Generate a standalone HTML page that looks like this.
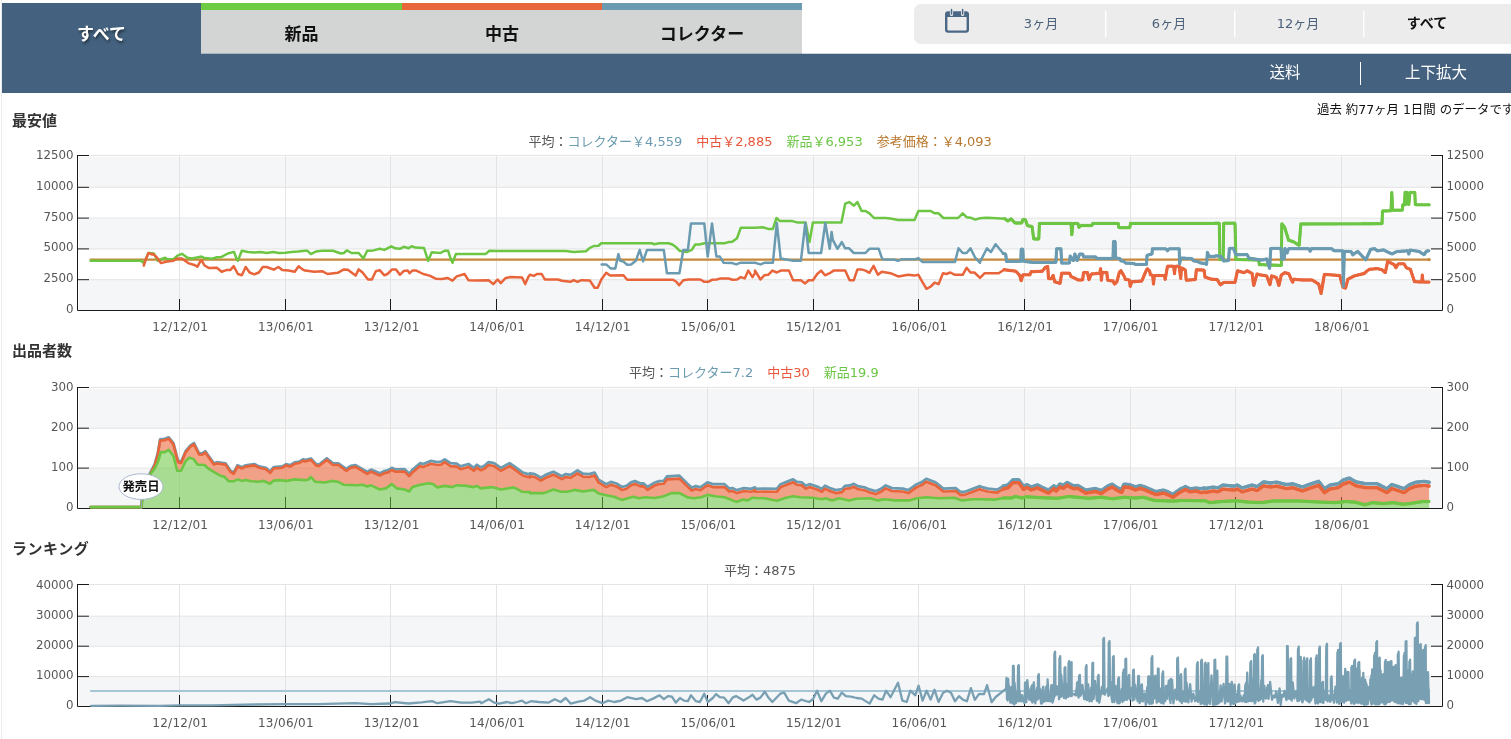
<!DOCTYPE html>
<html lang="ja"><head><meta charset="utf-8"><title>価格推移グラフ</title>
<style>
html,body{margin:0;padding:0;background:#fff;}
body{width:1511px;height:739px;overflow:hidden;position:relative;font-family:"DejaVu Sans","Noto Sans CJK JP",sans-serif;color:#333;}
.abs{position:absolute;}
#lb{left:1px;top:0;width:1px;height:739px;background:#ececec;}
#bar{left:2px;top:3px;width:1509px;height:90px;background:#44627f;}
#white{left:802px;top:0;width:709px;height:54px;background:#fff;}
.tab{top:3px;height:51px;width:200px;box-sizing:border-box;border-top:7px solid #ccc;background:#d3d4d4;text-align:center;font-weight:bold;font-size:17px;line-height:49px;color:#111;}
#t0{left:2px;width:199px;background:#44627f;border-top-color:#44627f;color:#fff;text-shadow:1px 2px 3px rgba(0,0,0,.55);}
#t1{left:201px;width:201px;border-top-color:#6ecb44;}
#t2{left:402px;border-top-color:#e8673a;}
#t3{left:602px;border-top-color:#6a9bb0;}
#sel{left:914px;top:4px;width:620px;height:40px;background:#ececec;border-radius:7px;}
.p{top:4px;height:40px;line-height:39px;width:128px;text-align:center;font-size:13px;color:#4b607a;}
.dv{top:11px;width:1px;height:26px;background:#fff;box-shadow:1px 0 0 rgba(255,255,255,.45);}
.bt{top:53px;height:40px;line-height:41px;color:#fff;font-size:15.5px;text-align:center;width:150px;}
.ttl{left:12px;font-weight:bold;font-size:15px;line-height:20px;color:#333;white-space:nowrap;}
.lg{font-size:13px;line-height:18px;white-space:nowrap;color:#555;}
.lg span{margin-left:14px;}
.lg span.f{margin-left:0;}
.cb{color:#6b9bb0}.co{color:#e8573a}.cg{color:#6cc644}.cr{color:#b8772e}
svg text{font-family:"DejaVu Sans","Noto Sans CJK JP",sans-serif;font-size:11.8px;fill:#555;}
svg text.xl{font-size:12px;letter-spacing:.25px}
svg text.rel{font-size:12.4px;font-weight:bold;fill:#111;}
</style></head><body>
<div id="lb" class="abs"></div>
<div id="bar" class="abs"></div>
<div id="white" class="abs"></div>
<div id="t0" class="abs tab">すべて</div>
<div id="t1" class="abs tab">新品</div>
<div id="t2" class="abs tab">中古</div>
<div id="t3" class="abs tab">コレクター</div>
<div class="abs" style="left:201px;top:53px;width:1310px;height:1px;background:rgba(68,98,127,.28)"></div>
<div id="sel" class="abs"></div>
<svg class="abs" style="left:945px;top:8px" width="24" height="26" viewBox="0 0 24 26">
<path d="M3 3.2h18a3 3 0 0 1 3 3v15.6a3 3 0 0 1-3 3H3a3 3 0 0 1-3-3V6.200a3 3 0 0 1 3-3zM2.400 8.900v12.600a1 1 0 0 0 1 1h17.200a1 1 0 0 0 1-1V8.900z" fill="#4a6785" fill-rule="evenodd"/>
<path d="M6.500 1.500v5M17.600 1.500v5" stroke="#ececec" stroke-width="3.200" stroke-linecap="round"/>
<path d="M6.500 1.500v4.600M17.600 1.500v4.600" stroke="#4a6785" stroke-width="1.500" stroke-linecap="round"/>
</svg>
<div class="abs p" style="left:977px">3ヶ月</div>
<div class="abs p" style="left:1105px">6ヶ月</div>
<div class="abs p" style="left:1234px">12ヶ月</div>
<div class="abs p" style="left:1363px;color:#111;font-weight:bold;font-size:14px">すべて</div>
<div class="abs dv" style="left:1105px"></div>
<div class="abs dv" style="left:1234px"></div>
<div class="abs dv" style="left:1363px"></div>
<div class="abs bt" style="left:1210px">送料</div>
<div class="abs" style="left:1360px;top:62px;width:1px;height:23px;background:#fff"></div>
<div class="abs bt" style="left:1361px">上下拡大</div>
<div class="abs" style="left:1317px;top:101px;font-size:12.45px;line-height:18px;white-space:nowrap;color:#111">過去 約77ヶ月 1日間 のデータです</div>

<div class="abs ttl" style="top:111px">最安値</div>
<div class="abs ttl" style="top:341px">出品者数</div>
<div class="abs ttl" style="top:539px;letter-spacing:.55px">ランキング</div>

<div class="abs lg" style="left:528.5px;top:133px"><span class="f">平均：</span><span class="f cb">コレクター￥4,559</span><span class="co">中古￥2,885</span><span class="cg">新品￥6,953</span><span class="cr">参考価格：￥4,093</span></div>
<div class="abs lg" style="left:629px;top:364px"><span class="f">平均：</span><span class="f cb">コレクター7.2</span><span class="co">中古30</span><span class="cg">新品19.9</span></div>
<div class="abs lg" style="left:724px;top:562px"><span class="f">平均：4875</span></div>

<svg class="abs" style="left:0;top:0" width="1511" height="739" viewBox="0 0 1511 739">
<rect x="79" y="157.0" width="1362" height="30.8" fill="#f5f6f8"/>
<rect x="79" y="218.6" width="1362" height="30.8" fill="#f5f6f8"/>
<rect x="79" y="280.2" width="1362" height="29.8" fill="#f5f6f8"/>
<line x1="89.5" y1="155.5" x2="1430.5" y2="155.5" stroke="#e4e4e4" stroke-width="1"/>
<line x1="89.5" y1="187.3" x2="1430.5" y2="187.3" stroke="#e4e4e4" stroke-width="1"/>
<line x1="89.5" y1="218.1" x2="1430.5" y2="218.1" stroke="#e4e4e4" stroke-width="1"/>
<line x1="89.5" y1="248.9" x2="1430.5" y2="248.9" stroke="#e4e4e4" stroke-width="1"/>
<line x1="89.5" y1="279.7" x2="1430.5" y2="279.7" stroke="#e4e4e4" stroke-width="1"/>
<line x1="179.5" y1="155.5" x2="179.5" y2="310.5" stroke="#e4e4e4" stroke-width="1"/>
<line x1="285.5" y1="155.5" x2="285.5" y2="310.5" stroke="#e4e4e4" stroke-width="1"/>
<line x1="390.5" y1="155.5" x2="390.5" y2="310.5" stroke="#e4e4e4" stroke-width="1"/>
<line x1="496.5" y1="155.5" x2="496.5" y2="310.5" stroke="#e4e4e4" stroke-width="1"/>
<line x1="602.5" y1="155.5" x2="602.5" y2="310.5" stroke="#e4e4e4" stroke-width="1"/>
<line x1="707.5" y1="155.5" x2="707.5" y2="310.5" stroke="#e4e4e4" stroke-width="1"/>
<line x1="813.5" y1="155.5" x2="813.5" y2="310.5" stroke="#e4e4e4" stroke-width="1"/>
<line x1="918.5" y1="155.5" x2="918.5" y2="310.5" stroke="#e4e4e4" stroke-width="1"/>
<line x1="1024.5" y1="155.5" x2="1024.5" y2="310.5" stroke="#e4e4e4" stroke-width="1"/>
<line x1="1130.5" y1="155.5" x2="1130.5" y2="310.5" stroke="#e4e4e4" stroke-width="1"/>
<line x1="1235.5" y1="155.5" x2="1235.5" y2="310.5" stroke="#e4e4e4" stroke-width="1"/>
<line x1="1341.5" y1="155.5" x2="1341.5" y2="310.5" stroke="#e4e4e4" stroke-width="1"/>
<path d="M90.6 259.6 L1429.2 259.6" fill="none" stroke="#c6883a" stroke-width="2.1" stroke-linejoin="round" stroke-linecap="round" />
<circle cx="1429.2" cy="259.6" r="1.6" fill="#c6883a"/>
<path d="M90.6 260.8 L140.7 260.8 L143.8 263.1 L146.1 258.5 L148.5 253.0 L153.9 253.5 L157.8 260.8 L160.9 259.2 L165.3 257.7 L167.1 259.2 L173.4 259.2 L178.0 255.3 L181.9 253.8 L187.4 257.7 L192.0 258.5 L198.3 257.2 L201.4 256.6 L204.5 258.1 L212.3 258.8 L216.9 257.2 L221.6 256.9 L227.8 253.5 L234.1 251.9 L236.4 258.5 L237.9 260.8 L241.8 250.7 L248.1 251.9 L254.3 252.6 L260.5 251.9 L266.7 253.0 L272.9 251.9 L279.2 253.0 L285.4 252.7 L291.6 251.9 L297.8 251.5 L305.0 250.7 L307.3 250.7 L310.9 254.1 L315.9 251.5 L322.1 250.7 L333.0 250.7 L340.8 253.5 L343.9 253.0 L346.7 250.4 L351.7 253.0 L358.7 253.0 L363.4 258.5 L367.2 250.7 L373.5 250.4 L379.7 248.8 L384.4 249.9 L391.4 246.3 L395.2 248.3 L399.9 248.8 L403.8 246.8 L408.5 248.3 L411.6 246.3 L415.5 247.6 L424.0 247.9 L426.4 255.3 L428.2 260.8 L431.8 252.2 L440.4 253.0 L445.0 250.7 L448.1 250.7 L450.5 258.5 L452.5 262.8 L455.9 254.1 L476.2 254.1 L485.5 254.1 L489.4 250.7 L497.9 251.0 L530.0 251.0 L565.8 251.0 L573.6 251.9 L586.0 251.2 L589.9 247.9 L593.8 246.0 L598.5 245.7 L601.3 243.2 L607.8 243.2 L651.4 243.2 L654.5 244.2 L659.1 243.2 L668.5 243.2 L672.4 244.5 L676.3 247.3 L679.4 250.7 L683.3 251.5 L687.2 251.9 L691.8 249.9 L695.2 244.5 L699.6 244.5 L704.3 243.2 L724.5 243.2 L728.4 242.1 L732.3 241.7 L737.0 238.2 L740.8 227.7 L755.0 227.7 L762.8 227.3 L768.2 228.9 L772.9 228.9 L776.5 218.0 L779.9 221.1 L792.3 221.1 L797.0 222.4 L805.6 222.4 L809.5 242.1 L812.9 222.4 L841.4 222.4 L845.2 203.7 L849.1 202.1 L853.8 205.6 L857.4 202.1 L861.6 211.0 L865.5 211.0 L869.4 213.3 L874.0 218.0 L885.7 218.0 L891.9 218.8 L898.1 219.9 L914.5 219.9 L918.4 211.0 L930.8 211.0 L934.7 213.3 L938.6 213.3 L943.3 218.0 L958.1 218.0 L962.7 213.3 L966.6 217.2 L970.5 217.7 L975.2 219.6 L980.0 218.3 L986.2 217.7 L992.5 218.0 L1004.9 218.8 L1008.0 221.1 L1011.1 218.8 L1015.0 223.0 L1021.7 223.0 L1022.8 219.6 L1025.4 219.6 L1027.5 225.8 L1032.1 226.6 L1033.7 239.0 L1038.8 239.0 L1039.4 223.4 L1071.0 223.4 L1071.8 234.8 L1073.0 223.4 L1078.0 223.4 L1078.8 227.3 L1081.1 225.5 L1092.0 225.5 L1092.8 223.4 L1118.2 223.4 L1118.8 227.7 L1129.7 227.7 L1130.6 223.4 L1205.0 223.4 L1219.3 223.2 L1219.9 259.7 L1223.2 259.7 L1223.7 223.2 L1235.0 223.2 L1235.9 259.4 L1258.6 260.0 L1259.4 264.6 L1281.3 265.4 L1281.8 223.7 L1284.6 227.2 L1288.6 240.2 L1293.5 241.8 L1299.2 245.4 L1300.8 224.0 L1382.0 223.7 L1382.5 211.0 L1391.0 210.7 L1391.8 192.3 L1392.6 210.2 L1402.3 210.2 L1402.8 204.8 L1404.4 204.8 L1405.1 192.3 L1406.4 204.5 L1407.2 192.3 L1408.8 204.5 L1410.0 192.3 L1414.8 192.3 L1415.3 204.8 L1429.1 204.8" fill="none" stroke="#6cc644" stroke-width="2.5" stroke-linejoin="round" stroke-linecap="round" />
<path d="M1004.9 218.8 L1008.0 221.1 L1011.1 218.8 L1015.0 223.0 L1021.7 223.0 L1022.8 219.6 L1025.4 219.6 L1027.5 225.8 L1032.1 226.6 L1033.7 239.0 L1038.8 239.0 L1039.4 223.4 L1071.0 223.4 L1071.8 234.8 L1073.0 223.4 L1078.0 223.4 L1078.8 227.3 L1081.1 225.5 L1092.0 225.5 L1092.8 223.4 L1118.2 223.4 L1118.8 227.7 L1129.7 227.7 L1130.6 223.4 L1205.0 223.4 L1219.3 223.2 L1219.9 259.7 L1223.2 259.7 L1223.7 223.2 L1235.0 223.2 L1235.9 259.4 L1258.6 260.0 L1259.4 264.6 L1281.3 265.4 L1281.8 223.7 L1284.6 227.2 L1288.6 240.2 L1293.5 241.8 L1299.2 245.4 L1300.8 224.0 L1382.0 223.7 L1382.5 211.0 L1391.0 210.7 L1391.8 192.3 L1392.6 210.2 L1402.3 210.2 L1402.8 204.8 L1404.4 204.8 L1405.1 192.3 L1406.4 204.5 L1407.2 192.3 L1408.8 204.5 L1410.0 192.3 L1414.8 192.3 L1415.3 204.8 L1429.1 204.8" fill="none" stroke="#6cc644" stroke-width="3.3" stroke-linecap="round" stroke-linejoin="round" stroke-dasharray="0.1 1.5"/>
<path d="M143.8 265.5 L146.1 258.5 L148.5 253.0 L152.3 254.6 L153.1 253.8 L157.0 257.7 L160.9 263.1 L167.1 261.6 L173.4 260.8 L177.2 258.5 L181.9 258.5 L188.9 263.4 L193.6 264.7 L197.5 266.6 L200.6 260.8 L202.2 261.3 L204.5 265.5 L209.2 268.1 L216.9 267.8 L221.6 271.7 L226.3 270.1 L230.2 270.1 L233.7 266.2 L237.9 274.0 L241.8 275.3 L245.7 267.0 L249.6 272.5 L254.3 274.3 L258.9 272.5 L262.8 267.0 L266.7 267.0 L273.7 269.7 L278.4 267.0 L282.3 270.1 L288.5 270.6 L294.7 271.7 L298.6 266.2 L302.5 269.4 L305.0 270.6 L314.3 271.7 L322.1 271.2 L327.6 274.0 L337.7 272.8 L343.9 269.4 L347.8 269.7 L355.6 275.6 L358.7 269.4 L362.6 272.5 L368.0 279.5 L371.9 279.5 L375.8 271.2 L379.7 270.1 L384.4 275.3 L387.5 274.0 L392.1 269.4 L396.0 269.4 L399.9 274.8 L403.8 270.9 L407.7 270.6 L409.6 273.2 L412.4 270.6 L416.3 270.6 L423.3 274.0 L429.5 275.6 L435.7 278.7 L441.9 279.0 L447.4 277.9 L452.5 280.6 L456.7 276.4 L464.5 274.0 L468.4 280.2 L476.2 280.6 L488.6 280.2 L493.3 284.1 L497.6 279.5 L500.8 283.1 L505.7 277.9 L510.4 277.1 L522.1 277.4 L525.2 284.1 L528.3 277.1 L530.0 274.8 L533.9 275.9 L537.0 274.0 L541.7 274.0 L544.8 279.5 L558.0 279.5 L561.9 280.7 L570.5 281.8 L573.6 280.2 L577.5 281.8 L581.4 280.2 L589.9 280.6 L594.6 287.7 L597.7 287.7 L601.3 279.5 L606.2 272.8 L610.1 275.6 L623.4 275.3 L627.2 279.8 L638.9 279.8 L673.1 279.8 L676.3 281.8 L679.1 285.2 L683.3 280.2 L688.7 279.5 L700.4 279.5 L704.3 281.8 L708.2 281.8 L712.0 279.8 L716.7 279.5 L720.6 278.4 L728.4 278.4 L732.3 279.8 L737.0 279.5 L740.8 277.1 L744.7 278.4 L748.3 270.6 L752.5 277.1 L755.0 273.2 L755.0 270.6 L760.5 279.5 L764.3 275.3 L768.2 274.8 L772.4 270.6 L776.8 272.5 L780.7 270.6 L788.9 270.6 L793.1 280.2 L800.9 280.2 L805.1 283.4 L808.7 280.2 L812.9 280.2 L817.2 274.0 L821.1 270.6 L825.0 275.3 L829.7 273.2 L833.6 270.6 L845.2 270.6 L849.6 280.2 L853.8 280.2 L857.4 269.4 L861.6 269.4 L865.5 270.6 L869.4 272.8 L873.6 265.9 L877.9 274.8 L881.8 271.7 L890.4 273.2 L898.1 276.4 L908.3 274.8 L914.5 275.6 L918.4 274.8 L922.3 281.8 L926.5 288.8 L930.8 286.5 L934.7 282.6 L938.6 284.1 L943.0 273.2 L946.4 274.0 L950.3 272.5 L955.0 274.8 L962.7 274.8 L966.6 267.8 L970.5 272.5 L974.4 272.5 L980.0 277.9 L984.7 273.2 L998.7 273.2 L1004.1 269.7 L1015.8 271.2 L1019.7 275.3 L1021.2 281.0 L1022.8 274.8 L1029.8 274.8 L1031.3 271.7 L1042.2 271.2 L1045.3 267.5 L1047.7 266.2 L1048.5 278.7 L1051.6 278.7 L1053.1 275.3 L1054.7 281.8 L1060.1 283.4 L1061.7 273.2 L1069.5 273.2 L1071.0 276.4 L1078.0 279.9 L1082.7 279.9 L1083.5 272.5 L1087.4 272.5 L1088.9 279.9 L1091.3 274.0 L1099.8 273.2 L1100.6 268.6 L1101.4 280.2 L1102.2 272.5 L1106.8 272.5 L1107.6 280.2 L1113.0 281.0 L1114.6 284.1 L1116.9 281.8 L1119.3 272.5 L1120.8 270.6 L1123.9 275.6 L1125.5 279.5 L1129.4 279.9 L1130.2 286.5 L1131.7 281.8 L1141.8 281.0 L1145.7 271.7 L1147.3 268.6 L1149.6 270.9 L1150.4 274.8 L1152.7 275.3 L1153.5 284.1 L1154.3 275.6 L1164.4 275.6 L1165.2 279.5 L1167.5 266.2 L1173.7 266.2 L1174.5 274.0 L1175.3 266.2 L1179.2 266.2 L1180.7 278.7 L1181.5 267.8 L1185.4 270.1 L1186.2 280.2 L1195.5 279.5 L1196.3 269.7 L1204.1 270.1 L1205.0 277.1 L1211.5 279.2 L1217.2 279.5 L1220.4 284.9 L1223.7 282.4 L1235.0 282.4 L1237.5 270.8 L1244.0 272.7 L1247.2 270.8 L1252.1 273.5 L1253.7 285.7 L1257.0 274.0 L1261.0 275.1 L1266.7 275.9 L1270.0 284.9 L1271.6 275.9 L1276.5 277.6 L1278.9 285.7 L1281.3 275.1 L1284.6 272.7 L1288.6 273.5 L1292.7 282.4 L1293.5 279.2 L1302.4 280.0 L1312.2 280.0 L1318.7 284.1 L1321.1 293.5 L1324.4 274.3 L1333.3 275.1 L1339.8 275.6 L1343.0 287.3 L1345.5 288.1 L1347.9 279.2 L1354.4 275.9 L1364.2 273.5 L1369.0 269.4 L1377.2 268.6 L1382.0 269.8 L1385.3 272.7 L1387.7 261.3 L1394.2 264.6 L1395.8 267.8 L1398.3 263.8 L1404.0 263.8 L1406.4 267.8 L1410.4 269.4 L1414.5 281.6 L1421.8 282.1 L1422.3 275.1 L1423.0 282.1 L1429.1 282.1" fill="none" stroke="#e8643a" stroke-width="2.5" stroke-linejoin="round" stroke-linecap="round" />
<path d="M1004.1 269.7 L1015.8 271.2 L1019.7 275.3 L1021.2 281.0 L1022.8 274.8 L1029.8 274.8 L1031.3 271.7 L1042.2 271.2 L1045.3 267.5 L1047.7 266.2 L1048.5 278.7 L1051.6 278.7 L1053.1 275.3 L1054.7 281.8 L1060.1 283.4 L1061.7 273.2 L1069.5 273.2 L1071.0 276.4 L1078.0 279.9 L1082.7 279.9 L1083.5 272.5 L1087.4 272.5 L1088.9 279.9 L1091.3 274.0 L1099.8 273.2 L1100.6 268.6 L1101.4 280.2 L1102.2 272.5 L1106.8 272.5 L1107.6 280.2 L1113.0 281.0 L1114.6 284.1 L1116.9 281.8 L1119.3 272.5 L1120.8 270.6 L1123.9 275.6 L1125.5 279.5 L1129.4 279.9 L1130.2 286.5 L1131.7 281.8 L1141.8 281.0 L1145.7 271.7 L1147.3 268.6 L1149.6 270.9 L1150.4 274.8 L1152.7 275.3 L1153.5 284.1 L1154.3 275.6 L1164.4 275.6 L1165.2 279.5 L1167.5 266.2 L1173.7 266.2 L1174.5 274.0 L1175.3 266.2 L1179.2 266.2 L1180.7 278.7 L1181.5 267.8 L1185.4 270.1 L1186.2 280.2 L1195.5 279.5 L1196.3 269.7 L1204.1 270.1 L1205.0 277.1 L1211.5 279.2 L1217.2 279.5 L1220.4 284.9 L1223.7 282.4 L1235.0 282.4 L1237.5 270.8 L1244.0 272.7 L1247.2 270.8 L1252.1 273.5 L1253.7 285.7 L1257.0 274.0 L1261.0 275.1 L1266.7 275.9 L1270.0 284.9 L1271.6 275.9 L1276.5 277.6 L1278.9 285.7 L1281.3 275.1 L1284.6 272.7 L1288.6 273.5 L1292.7 282.4 L1293.5 279.2 L1302.4 280.0 L1312.2 280.0 L1318.7 284.1 L1321.1 293.5 L1324.4 274.3 L1333.3 275.1 L1339.8 275.6 L1343.0 287.3 L1345.5 288.1 L1347.9 279.2 L1354.4 275.9 L1364.2 273.5 L1369.0 269.4 L1377.2 268.6 L1382.0 269.8 L1385.3 272.7 L1387.7 261.3 L1394.2 264.6 L1395.8 267.8 L1398.3 263.8 L1404.0 263.8 L1406.4 267.8 L1410.4 269.4 L1414.5 281.6 L1421.8 282.1 L1422.3 275.1 L1423.0 282.1 L1429.1 282.1" fill="none" stroke="#e8643a" stroke-width="3.3" stroke-linecap="round" stroke-linejoin="round" stroke-dasharray="0.1 1.5"/>
<path d="M601.6 264.4 L606.2 264.4 L610.9 268.6 L615.3 268.6 L618.4 254.1 L620.2 260.8 L623.4 261.6 L627.2 264.7 L631.1 264.4 L635.8 260.8 L639.7 249.9 L643.1 261.3 L647.0 249.9 L663.8 249.9 L666.9 273.2 L679.4 273.2 L683.3 249.9 L687.9 249.9 L691.0 223.4 L704.3 223.4 L707.7 256.6 L712.0 223.4 L716.4 256.6 L719.8 256.6 L723.7 262.8 L732.3 263.1 L736.2 264.4 L740.1 262.8 L755.0 262.8 L760.5 264.4 L764.3 262.8 L772.9 262.8 L776.8 223.0 L780.7 258.5 L787.7 259.7 L793.1 260.8 L800.9 260.8 L805.3 223.0 L808.7 253.0 L821.1 253.0 L825.3 223.0 L829.7 248.8 L831.6 232.0 L832.8 239.8 L837.5 248.8 L841.8 242.1 L845.2 248.3 L849.1 248.3 L853.8 253.0 L865.5 253.0 L869.4 248.8 L878.7 248.8 L882.3 259.2 L895.0 259.7 L898.1 260.8 L902.0 259.2 L915.3 259.2 L918.4 258.1 L922.3 261.9 L955.0 261.9 L958.5 248.3 L962.7 253.0 L966.6 253.0 L970.5 248.3 L975.2 257.7 L980.0 262.8 L980.0 261.9 L987.0 248.3 L990.9 252.2 L995.6 244.2 L1003.3 253.5 L1005.7 254.1 L1006.5 261.3 L1020.8 261.3 L1021.2 249.1 L1022.8 249.1 L1023.3 261.3 L1032.9 262.4 L1055.9 262.4 L1056.6 248.8 L1060.9 248.8 L1061.7 263.1 L1069.5 263.1 L1070.2 256.1 L1073.4 260.8 L1074.9 254.1 L1077.2 260.8 L1079.6 254.1 L1082.7 254.1 L1083.5 256.9 L1095.9 256.9 L1096.7 258.5 L1113.0 258.5 L1113.5 241.3 L1115.1 241.3 L1115.7 258.1 L1120.0 258.5 L1120.8 260.8 L1123.9 261.3 L1125.5 263.1 L1133.3 263.4 L1135.6 264.4 L1146.5 264.4 L1147.0 255.3 L1151.9 254.1 L1152.4 248.8 L1165.9 248.8 L1167.5 250.7 L1169.1 248.8 L1179.2 248.8 L1179.6 263.9 L1180.7 258.1 L1191.6 258.5 L1193.2 260.8 L1197.8 261.6 L1201.0 263.1 L1205.0 263.4 L1206.6 264.6 L1207.4 252.4 L1209.1 256.5 L1214.7 256.5 L1216.4 255.7 L1221.2 256.5 L1223.7 261.0 L1228.5 260.5 L1229.4 248.3 L1233.4 248.3 L1235.9 254.8 L1247.2 254.5 L1248.8 258.1 L1260.2 260.0 L1264.3 259.7 L1266.7 258.9 L1269.6 268.6 L1270.8 248.3 L1281.0 248.3 L1281.7 258.9 L1284.2 258.9 L1284.9 248.3 L1287.0 253.2 L1288.6 248.7 L1308.9 248.7 L1310.2 251.3 L1311.4 248.7 L1331.7 248.7 L1334.1 250.8 L1342.7 250.8 L1343.4 286.5 L1344.3 251.3 L1351.2 251.6 L1352.8 254.8 L1357.7 251.3 L1362.5 256.5 L1365.8 259.7 L1370.7 249.2 L1374.7 248.7 L1377.2 250.8 L1383.7 250.0 L1391.8 254.0 L1396.6 251.6 L1408.0 250.8 L1408.8 254.0 L1410.0 250.0 L1419.4 251.6 L1424.2 254.8 L1426.2 251.3 L1429.1 250.8" fill="none" stroke="#6b9bb0" stroke-width="2.5" stroke-linejoin="round" stroke-linecap="round" />
<path d="M1003.3 253.5 L1005.7 254.1 L1006.5 261.3 L1020.8 261.3 L1021.2 249.1 L1022.8 249.1 L1023.3 261.3 L1032.9 262.4 L1055.9 262.4 L1056.6 248.8 L1060.9 248.8 L1061.7 263.1 L1069.5 263.1 L1070.2 256.1 L1073.4 260.8 L1074.9 254.1 L1077.2 260.8 L1079.6 254.1 L1082.7 254.1 L1083.5 256.9 L1095.9 256.9 L1096.7 258.5 L1113.0 258.5 L1113.5 241.3 L1115.1 241.3 L1115.7 258.1 L1120.0 258.5 L1120.8 260.8 L1123.9 261.3 L1125.5 263.1 L1133.3 263.4 L1135.6 264.4 L1146.5 264.4 L1147.0 255.3 L1151.9 254.1 L1152.4 248.8 L1165.9 248.8 L1167.5 250.7 L1169.1 248.8 L1179.2 248.8 L1179.6 263.9 L1180.7 258.1 L1191.6 258.5 L1193.2 260.8 L1197.8 261.6 L1201.0 263.1 L1205.0 263.4 L1206.6 264.6 L1207.4 252.4 L1209.1 256.5 L1214.7 256.5 L1216.4 255.7 L1221.2 256.5 L1223.7 261.0 L1228.5 260.5 L1229.4 248.3 L1233.4 248.3 L1235.9 254.8 L1247.2 254.5 L1248.8 258.1 L1260.2 260.0 L1264.3 259.7 L1266.7 258.9 L1269.6 268.6 L1270.8 248.3 L1281.0 248.3 L1281.7 258.9 L1284.2 258.9 L1284.9 248.3 L1287.0 253.2 L1288.6 248.7 L1308.9 248.7 L1310.2 251.3 L1311.4 248.7 L1331.7 248.7 L1334.1 250.8 L1342.7 250.8 L1343.4 286.5 L1344.3 251.3 L1351.2 251.6 L1352.8 254.8 L1357.7 251.3 L1362.5 256.5 L1365.8 259.7 L1370.7 249.2 L1374.7 248.7 L1377.2 250.8 L1383.7 250.0 L1391.8 254.0 L1396.6 251.6 L1408.0 250.8 L1408.8 254.0 L1410.0 250.0 L1419.4 251.6 L1424.2 254.8 L1426.2 251.3 L1429.1 250.8" fill="none" stroke="#6b9bb0" stroke-width="3.3" stroke-linecap="round" stroke-linejoin="round" stroke-dasharray="0.1 1.5"/>
<path d="M77.5 155.5 V310.5 H1442.5 V155.5" fill="none" stroke="#1a1a1a" stroke-width="1" stroke-linecap="square"/>
<path d="M77.5 155.5h11.5M1442.5 155.5h-11.5" stroke="#1a1a1a" stroke-width="1"/>
<path d="M77.5 187.3h11.5M1442.5 187.3h-11.5" stroke="#1a1a1a" stroke-width="1"/>
<path d="M77.5 218.1h11.5M1442.5 218.1h-11.5" stroke="#1a1a1a" stroke-width="1"/>
<path d="M77.5 248.9h11.5M1442.5 248.9h-11.5" stroke="#1a1a1a" stroke-width="1"/>
<path d="M77.5 279.7h11.5M1442.5 279.7h-11.5" stroke="#1a1a1a" stroke-width="1"/>
<path d="M179.5 310.5v-11.5" stroke="#1a1a1a" stroke-width="1"/>
<path d="M285.5 310.5v-11.5" stroke="#1a1a1a" stroke-width="1"/>
<path d="M390.5 310.5v-11.5" stroke="#1a1a1a" stroke-width="1"/>
<path d="M496.5 310.5v-11.5" stroke="#1a1a1a" stroke-width="1"/>
<path d="M602.5 310.5v-11.5" stroke="#1a1a1a" stroke-width="1"/>
<path d="M707.5 310.5v-11.5" stroke="#1a1a1a" stroke-width="1"/>
<path d="M813.5 310.5v-11.5" stroke="#1a1a1a" stroke-width="1"/>
<path d="M918.5 310.5v-11.5" stroke="#1a1a1a" stroke-width="1"/>
<path d="M1024.5 310.5v-11.5" stroke="#1a1a1a" stroke-width="1"/>
<path d="M1130.5 310.5v-11.5" stroke="#1a1a1a" stroke-width="1"/>
<path d="M1235.5 310.5v-11.5" stroke="#1a1a1a" stroke-width="1"/>
<path d="M1341.5 310.5v-11.5" stroke="#1a1a1a" stroke-width="1"/>
<text x="73.5" y="159.0" text-anchor="end">12500</text>
<text x="1446.6" y="159.0">12500</text>
<text x="73.5" y="189.8" text-anchor="end">10000</text>
<text x="1446.6" y="189.8">10000</text>
<text x="73.5" y="220.6" text-anchor="end">7500</text>
<text x="1446.6" y="220.6">7500</text>
<text x="73.5" y="251.4" text-anchor="end">5000</text>
<text x="1446.6" y="251.4">5000</text>
<text x="73.5" y="282.2" text-anchor="end">2500</text>
<text x="1446.6" y="282.2">2500</text>
<text x="73.5" y="313.0" text-anchor="end">0</text>
<text x="1446.6" y="313.0">0</text>
<text x="180.3" y="330.8" text-anchor="middle" class="xl">12/12/01</text>
<text x="285.9" y="330.8" text-anchor="middle" class="xl">13/06/01</text>
<text x="391.6" y="330.8" text-anchor="middle" class="xl">13/12/01</text>
<text x="497.1" y="330.8" text-anchor="middle" class="xl">14/06/01</text>
<text x="602.8" y="330.8" text-anchor="middle" class="xl">14/12/01</text>
<text x="708.4" y="330.8" text-anchor="middle" class="xl">15/06/01</text>
<text x="813.9" y="330.8" text-anchor="middle" class="xl">15/12/01</text>
<text x="919.5" y="330.8" text-anchor="middle" class="xl">16/06/01</text>
<text x="1025.2" y="330.8" text-anchor="middle" class="xl">16/12/01</text>
<text x="1130.8" y="330.8" text-anchor="middle" class="xl">17/06/01</text>
<text x="1236.4" y="330.8" text-anchor="middle" class="xl">17/12/01</text>
<text x="1342.0" y="330.8" text-anchor="middle" class="xl">18/06/01</text>
<rect x="79" y="389.0" width="1362" height="39.7" fill="#f5f6f8"/>
<rect x="79" y="468.6" width="1362" height="39.4" fill="#f5f6f8"/>
<line x1="89.5" y1="387.5" x2="1430.5" y2="387.5" stroke="#e4e4e4" stroke-width="1"/>
<line x1="89.5" y1="428.2" x2="1430.5" y2="428.2" stroke="#e4e4e4" stroke-width="1"/>
<line x1="89.5" y1="468.1" x2="1430.5" y2="468.1" stroke="#e4e4e4" stroke-width="1"/>
<line x1="179.5" y1="387.5" x2="179.5" y2="508.5" stroke="#e4e4e4" stroke-width="1"/>
<line x1="285.5" y1="387.5" x2="285.5" y2="508.5" stroke="#e4e4e4" stroke-width="1"/>
<line x1="390.5" y1="387.5" x2="390.5" y2="508.5" stroke="#e4e4e4" stroke-width="1"/>
<line x1="496.5" y1="387.5" x2="496.5" y2="508.5" stroke="#e4e4e4" stroke-width="1"/>
<line x1="602.5" y1="387.5" x2="602.5" y2="508.5" stroke="#e4e4e4" stroke-width="1"/>
<line x1="707.5" y1="387.5" x2="707.5" y2="508.5" stroke="#e4e4e4" stroke-width="1"/>
<line x1="813.5" y1="387.5" x2="813.5" y2="508.5" stroke="#e4e4e4" stroke-width="1"/>
<line x1="918.5" y1="387.5" x2="918.5" y2="508.5" stroke="#e4e4e4" stroke-width="1"/>
<line x1="1024.5" y1="387.5" x2="1024.5" y2="508.5" stroke="#e4e4e4" stroke-width="1"/>
<line x1="1130.5" y1="387.5" x2="1130.5" y2="508.5" stroke="#e4e4e4" stroke-width="1"/>
<line x1="1235.5" y1="387.5" x2="1235.5" y2="508.5" stroke="#e4e4e4" stroke-width="1"/>
<line x1="1341.5" y1="387.5" x2="1341.5" y2="508.5" stroke="#e4e4e4" stroke-width="1"/>
<path d="M77.5 387.5 V508.5 H1442.5 V387.5" fill="none" stroke="#1a1a1a" stroke-width="1" stroke-linecap="square"/>
<path d="M77.5 387.5h11.5M1442.5 387.5h-11.5" stroke="#1a1a1a" stroke-width="1"/>
<path d="M77.5 428.2h11.5M1442.5 428.2h-11.5" stroke="#1a1a1a" stroke-width="1"/>
<path d="M77.5 468.1h11.5M1442.5 468.1h-11.5" stroke="#1a1a1a" stroke-width="1"/>
<path d="M179.5 508.5v-11.5" stroke="#1a1a1a" stroke-width="1"/>
<path d="M285.5 508.5v-11.5" stroke="#1a1a1a" stroke-width="1"/>
<path d="M390.5 508.5v-11.5" stroke="#1a1a1a" stroke-width="1"/>
<path d="M496.5 508.5v-11.5" stroke="#1a1a1a" stroke-width="1"/>
<path d="M602.5 508.5v-11.5" stroke="#1a1a1a" stroke-width="1"/>
<path d="M707.5 508.5v-11.5" stroke="#1a1a1a" stroke-width="1"/>
<path d="M813.5 508.5v-11.5" stroke="#1a1a1a" stroke-width="1"/>
<path d="M918.5 508.5v-11.5" stroke="#1a1a1a" stroke-width="1"/>
<path d="M1024.5 508.5v-11.5" stroke="#1a1a1a" stroke-width="1"/>
<path d="M1130.5 508.5v-11.5" stroke="#1a1a1a" stroke-width="1"/>
<path d="M1235.5 508.5v-11.5" stroke="#1a1a1a" stroke-width="1"/>
<path d="M1341.5 508.5v-11.5" stroke="#1a1a1a" stroke-width="1"/>
<text x="73.5" y="390.5" text-anchor="end">300</text>
<text x="1446.6" y="390.5">300</text>
<text x="73.5" y="430.7" text-anchor="end">200</text>
<text x="1446.6" y="430.7">200</text>
<text x="73.5" y="470.6" text-anchor="end">100</text>
<text x="1446.6" y="470.6">100</text>
<text x="73.5" y="511.0" text-anchor="end">0</text>
<text x="1446.6" y="511.0">0</text>
<text x="180.3" y="528.8" text-anchor="middle" class="xl">12/12/01</text>
<text x="285.9" y="528.8" text-anchor="middle" class="xl">13/06/01</text>
<text x="391.6" y="528.8" text-anchor="middle" class="xl">13/12/01</text>
<text x="497.1" y="528.8" text-anchor="middle" class="xl">14/06/01</text>
<text x="602.8" y="528.8" text-anchor="middle" class="xl">14/12/01</text>
<text x="708.4" y="528.8" text-anchor="middle" class="xl">15/06/01</text>
<text x="813.9" y="528.8" text-anchor="middle" class="xl">15/12/01</text>
<text x="919.5" y="528.8" text-anchor="middle" class="xl">16/06/01</text>
<text x="1025.2" y="528.8" text-anchor="middle" class="xl">16/12/01</text>
<text x="1130.8" y="528.8" text-anchor="middle" class="xl">17/06/01</text>
<text x="1236.4" y="528.8" text-anchor="middle" class="xl">17/12/01</text>
<text x="1342.0" y="528.8" text-anchor="middle" class="xl">18/06/01</text>
<path d="M90.6 507.1 L141.5 507.1 L141.9 501.1 L149.2 476.2 L150.0 474.7 L154.7 468.5 L157.8 462.2 L160.9 452.1 L164.8 452.1 L168.7 449.8 L173.4 456.0 L177.2 470.8 L181.1 470.8 L185.8 460.7 L189.7 457.6 L193.6 459.1 L197.5 464.6 L204.5 465.0 L209.2 469.2 L215.4 472.8 L220.0 475.5 L224.7 477.0 L228.6 481.2 L234.1 481.2 L237.9 479.4 L241.8 480.9 L245.7 480.1 L251.2 481.2 L258.9 481.7 L263.6 480.9 L266.7 482.2 L270.1 483.7 L273.7 480.6 L279.2 480.1 L286.9 480.9 L294.7 479.4 L305.0 480.1 L308.1 479.7 L310.9 477.0 L315.1 481.7 L325.2 482.5 L331.4 480.9 L337.7 481.7 L343.9 484.8 L356.4 485.3 L362.6 484.8 L367.2 486.4 L371.1 485.3 L379.7 489.5 L385.9 488.4 L391.8 484.0 L396.8 488.4 L404.6 489.5 L409.2 491.5 L412.4 487.1 L420.1 484.8 L428.7 483.2 L433.4 484.3 L437.3 487.4 L445.0 485.9 L452.0 487.1 L456.7 485.3 L466.8 485.9 L473.1 487.1 L476.9 485.9 L480.8 488.4 L491.7 487.1 L501.1 489.5 L505.7 488.7 L513.5 487.4 L518.2 489.5 L522.1 491.8 L530.0 492.1 L530.0 493.1 L544.0 493.1 L553.3 489.5 L561.1 491.8 L567.3 491.8 L574.4 489.9 L582.9 491.5 L593.8 489.9 L598.5 493.4 L606.2 495.2 L614.0 496.8 L621.8 499.9 L629.6 497.7 L633.5 496.8 L638.9 498.3 L645.1 497.2 L654.5 498.0 L663.0 496.5 L671.6 493.1 L679.4 493.1 L687.2 497.2 L693.4 498.3 L701.2 497.2 L707.4 494.9 L716.7 496.5 L724.5 497.2 L730.7 499.6 L736.2 501.9 L743.2 499.6 L747.8 500.4 L752.5 497.7 L755.0 497.7 L755.0 498.0 L764.3 498.3 L776.8 500.8 L786.1 497.7 L793.1 496.2 L800.1 497.2 L812.6 497.7 L821.9 499.3 L825.8 498.3 L832.0 500.4 L839.0 498.3 L849.1 500.4 L856.1 498.8 L870.1 498.3 L877.9 500.4 L884.1 499.3 L895.0 500.4 L909.0 500.4 L916.8 498.3 L926.2 497.2 L938.6 498.3 L954.2 497.7 L962.0 500.4 L972.8 499.3 L980.0 499.3 L980.0 499.3 L995.6 499.6 L1003.3 498.0 L1011.1 498.0 L1015.8 496.5 L1022.0 498.0 L1026.7 496.8 L1042.2 497.7 L1057.8 498.3 L1068.7 496.5 L1076.5 497.2 L1088.9 498.3 L1101.4 497.2 L1112.3 498.8 L1124.7 497.2 L1135.6 498.0 L1143.4 497.2 L1154.3 500.4 L1173.0 501.1 L1182.3 500.4 L1205.0 500.8 L1209.9 502.6 L1221.2 501.5 L1235.9 500.7 L1247.2 502.0 L1261.8 502.6 L1273.2 501.0 L1299.2 501.0 L1318.7 502.0 L1334.9 502.6 L1346.3 501.5 L1356.0 502.3 L1365.0 504.8 L1372.3 502.6 L1383.7 503.6 L1393.4 502.6 L1403.1 504.3 L1412.9 503.1 L1422.6 501.5 L1429.1 501.5 L1429.1 508.0 L90.6 508.0Z" fill="#68c63e" fill-opacity="0.55"/>
<path d="M90.6 507.1 L141.5 507.1 L141.9 501.1 L149.2 476.2 L154.7 465.4 L157.8 454.5 L160.1 440.8 L164.8 440.1 L168.7 438.6 L173.4 444.4 L178.0 462.2 L181.1 463.0 L185.8 452.1 L190.5 446.7 L193.9 444.4 L199.0 454.5 L202.2 454.8 L205.3 452.6 L213.8 464.6 L216.9 463.5 L225.5 464.6 L230.2 471.6 L233.7 473.9 L237.5 466.6 L241.8 468.5 L245.7 466.6 L254.3 465.4 L258.9 467.7 L265.9 469.2 L270.1 472.8 L273.7 468.5 L282.3 467.7 L286.2 465.4 L290.1 466.6 L294.7 463.8 L299.4 463.0 L303.3 460.7 L305.0 461.5 L310.9 459.9 L315.9 465.4 L319.0 466.1 L326.8 459.9 L333.0 465.0 L338.4 465.0 L346.2 470.8 L350.9 467.7 L355.6 466.9 L367.2 473.9 L371.1 471.6 L379.7 475.5 L384.4 473.1 L388.2 472.4 L391.8 470.0 L395.2 471.6 L404.6 471.6 L409.2 476.2 L412.4 472.4 L420.1 466.1 L423.3 466.9 L431.0 463.8 L437.3 465.0 L441.1 464.6 L444.7 462.2 L450.5 466.1 L456.7 466.6 L460.6 469.2 L468.4 466.9 L473.8 470.8 L476.9 467.7 L480.8 470.3 L484.7 468.5 L488.6 465.0 L494.1 466.1 L500.8 470.8 L509.6 466.1 L514.3 469.2 L522.8 475.5 L530.0 477.5 L530.0 476.2 L534.7 477.0 L540.9 480.6 L545.6 477.8 L553.3 474.7 L561.9 479.1 L565.8 477.0 L570.5 477.8 L577.5 473.4 L582.9 476.6 L589.1 477.0 L594.6 475.5 L598.5 482.5 L606.2 487.1 L610.9 484.8 L616.4 486.4 L621.8 489.9 L626.5 488.7 L631.1 485.3 L635.0 484.0 L640.5 486.4 L643.6 486.4 L647.5 489.9 L654.5 485.6 L659.1 484.0 L663.8 483.7 L666.9 479.4 L679.4 478.6 L687.2 486.4 L691.8 490.6 L695.7 489.0 L700.4 490.2 L707.4 485.3 L712.8 487.1 L724.5 487.1 L729.2 491.5 L732.3 491.0 L737.0 493.1 L744.0 491.0 L751.0 491.8 L755.0 490.2 L755.0 491.8 L765.9 491.5 L776.8 491.8 L780.7 487.1 L788.5 484.0 L793.1 482.2 L797.0 484.8 L801.7 485.3 L805.6 488.7 L809.5 487.1 L817.2 489.5 L821.9 491.8 L825.0 488.7 L829.7 491.0 L835.9 493.1 L842.1 492.1 L845.2 488.7 L849.9 488.4 L853.8 486.8 L857.7 489.0 L865.5 490.6 L870.1 492.6 L875.6 494.1 L881.0 491.8 L885.7 488.4 L891.9 491.0 L902.8 491.5 L908.3 493.1 L916.8 487.1 L922.3 484.8 L926.2 481.7 L935.5 485.3 L943.3 491.5 L955.7 491.0 L960.4 494.9 L964.3 494.9 L972.8 491.8 L980.0 489.0 L980.0 489.5 L987.8 491.5 L997.1 492.6 L1003.3 489.0 L1008.0 487.9 L1012.7 482.8 L1018.9 482.8 L1023.6 489.5 L1026.7 487.4 L1031.3 489.9 L1037.6 487.9 L1042.2 490.2 L1048.5 493.1 L1053.9 488.7 L1056.2 491.0 L1060.1 486.8 L1063.2 488.4 L1067.1 485.3 L1073.4 488.7 L1078.0 488.4 L1085.8 493.1 L1095.2 491.5 L1101.4 493.4 L1107.6 489.0 L1112.3 487.1 L1116.9 490.2 L1121.6 492.6 L1123.9 487.1 L1129.4 487.4 L1135.6 489.9 L1140.3 488.4 L1144.9 489.9 L1155.8 494.6 L1163.6 493.1 L1168.3 494.9 L1173.0 497.2 L1179.2 492.6 L1185.4 489.5 L1190.1 491.8 L1196.3 491.0 L1201.0 492.6 L1205.0 491.8 L1205.0 492.6 L1213.1 490.9 L1218.0 491.8 L1222.9 489.0 L1234.2 490.1 L1237.5 489.0 L1242.3 491.8 L1252.1 489.0 L1257.0 490.6 L1263.5 485.8 L1270.0 486.9 L1276.5 486.1 L1286.2 488.5 L1292.7 487.7 L1302.4 490.9 L1308.9 488.5 L1318.7 485.3 L1324.4 492.6 L1330.0 489.0 L1338.2 487.7 L1343.0 484.1 L1349.5 482.0 L1356.0 485.8 L1365.8 487.7 L1377.2 487.7 L1386.9 492.6 L1391.8 488.5 L1396.6 490.1 L1404.0 492.6 L1409.6 488.5 L1416.1 486.1 L1424.2 485.3 L1429.1 486.1 L1429.1 501.5 L1422.6 501.5 L1412.9 503.1 L1403.1 504.3 L1393.4 502.6 L1383.7 503.6 L1372.3 502.6 L1365.0 504.8 L1356.0 502.3 L1346.3 501.5 L1334.9 502.6 L1318.7 502.0 L1299.2 501.0 L1273.2 501.0 L1261.8 502.6 L1247.2 502.0 L1235.9 500.7 L1221.2 501.5 L1209.9 502.6 L1205.0 500.8 L1182.3 500.4 L1173.0 501.1 L1154.3 500.4 L1143.4 497.2 L1135.6 498.0 L1124.7 497.2 L1112.3 498.8 L1101.4 497.2 L1088.9 498.3 L1076.5 497.2 L1068.7 496.5 L1057.8 498.3 L1042.2 497.7 L1026.7 496.8 L1022.0 498.0 L1015.8 496.5 L1011.1 498.0 L1003.3 498.0 L995.6 499.6 L980.0 499.3 L980.0 499.3 L972.8 499.3 L962.0 500.4 L954.2 497.7 L938.6 498.3 L926.2 497.2 L916.8 498.3 L909.0 500.4 L895.0 500.4 L884.1 499.3 L877.9 500.4 L870.1 498.3 L856.1 498.8 L849.1 500.4 L839.0 498.3 L832.0 500.4 L825.8 498.3 L821.9 499.3 L812.6 497.7 L800.1 497.2 L793.1 496.2 L786.1 497.7 L776.8 500.8 L764.3 498.3 L755.0 498.0 L755.0 497.7 L752.5 497.7 L747.8 500.4 L743.2 499.6 L736.2 501.9 L730.7 499.6 L724.5 497.2 L716.7 496.5 L707.4 494.9 L701.2 497.2 L693.4 498.3 L687.2 497.2 L679.4 493.1 L671.6 493.1 L663.0 496.5 L654.5 498.0 L645.1 497.2 L638.9 498.3 L633.5 496.8 L629.6 497.7 L621.8 499.9 L614.0 496.8 L606.2 495.2 L598.5 493.4 L593.8 489.9 L582.9 491.5 L574.4 489.9 L567.3 491.8 L561.1 491.8 L553.3 489.5 L544.0 493.1 L530.0 493.1 L530.0 492.1 L522.1 491.8 L518.2 489.5 L513.5 487.4 L505.7 488.7 L501.1 489.5 L491.7 487.1 L480.8 488.4 L476.9 485.9 L473.1 487.1 L466.8 485.9 L456.7 485.3 L452.0 487.1 L445.0 485.9 L437.3 487.4 L433.4 484.3 L428.7 483.2 L420.1 484.8 L412.4 487.1 L409.2 491.5 L404.6 489.5 L396.8 488.4 L391.8 484.0 L385.9 488.4 L379.7 489.5 L371.1 485.3 L367.2 486.4 L362.6 484.8 L356.4 485.3 L343.9 484.8 L337.7 481.7 L331.4 480.9 L325.2 482.5 L315.1 481.7 L310.9 477.0 L308.1 479.7 L305.0 480.1 L294.7 479.4 L286.9 480.9 L279.2 480.1 L273.7 480.6 L270.1 483.7 L266.7 482.2 L263.6 480.9 L258.9 481.7 L251.2 481.2 L245.7 480.1 L241.8 480.9 L237.9 479.4 L234.1 481.2 L228.6 481.2 L224.7 477.0 L220.0 475.5 L215.4 472.8 L209.2 469.2 L204.5 465.0 L197.5 464.6 L193.6 459.1 L189.7 457.6 L185.8 460.7 L181.1 470.8 L177.2 470.8 L173.4 456.0 L168.7 449.8 L164.8 452.1 L160.9 452.1 L157.8 462.2 L154.7 468.5 L150.0 474.7 L149.2 476.2 L141.9 501.1 L141.5 507.1 L90.6 507.1Z" fill="#ee5f2e" fill-opacity="0.56"/>
<path d="M90.6 507.1 L141.5 507.1 L141.9 499.8 L149.2 474.9 L154.7 464.1 L157.8 453.2 L160.1 439.5 L164.8 438.8 L168.7 437.3 L173.4 443.1 L178.0 460.9 L181.1 461.7 L185.8 450.8 L190.5 445.4 L193.9 443.1 L199.0 453.2 L202.2 453.5 L205.3 451.3 L213.8 463.3 L216.9 462.2 L225.5 463.3 L230.2 470.3 L233.7 472.6 L237.5 465.3 L241.8 467.2 L245.7 465.3 L254.3 464.1 L258.9 466.4 L265.9 467.9 L270.1 471.5 L273.7 467.2 L282.3 466.4 L286.2 464.1 L290.1 465.3 L294.7 462.5 L299.4 461.7 L303.3 459.3 L305.0 460.1 L310.9 458.5 L315.9 463.9 L319.0 464.6 L326.8 458.3 L333.0 463.4 L338.4 463.4 L346.2 469.0 L350.9 465.9 L355.6 465.1 L367.2 471.9 L371.1 469.6 L379.7 473.4 L384.4 471.0 L388.2 470.2 L391.8 467.8 L395.2 469.3 L404.6 469.2 L409.2 473.8 L412.4 469.9 L420.1 463.2 L423.3 464.0 L431.0 460.9 L437.3 462.1 L441.1 461.7 L444.7 459.3 L450.5 463.2 L456.7 463.7 L460.6 466.3 L468.4 464.0 L473.8 467.9 L476.9 464.8 L480.8 467.4 L484.7 465.6 L488.6 462.1 L494.1 463.2 L500.8 467.9 L509.6 463.2 L514.3 466.3 L522.8 472.6 L530.0 474.6 L530.0 473.3 L534.7 474.1 L540.9 477.7 L545.6 474.9 L553.3 471.8 L561.9 476.2 L565.8 474.1 L570.5 474.9 L577.5 470.5 L582.9 473.7 L589.1 474.1 L594.6 472.6 L598.5 479.6 L606.2 484.2 L610.9 481.9 L616.4 483.5 L621.8 487.0 L626.5 485.8 L631.1 482.4 L635.0 481.1 L640.5 483.5 L643.6 483.5 L647.5 487.0 L654.5 482.7 L659.1 481.1 L663.8 480.8 L666.9 476.5 L679.4 475.7 L687.2 483.5 L691.8 487.7 L695.7 486.1 L700.4 487.4 L707.4 482.4 L712.8 484.2 L724.5 484.2 L729.2 488.6 L732.3 488.1 L737.0 490.2 L744.0 488.1 L751.0 488.9 L755.0 487.4 L755.0 488.9 L765.9 488.6 L776.8 488.9 L780.7 484.2 L788.5 481.1 L793.1 479.3 L797.0 481.9 L801.7 482.4 L805.6 485.8 L809.5 484.2 L817.2 486.6 L821.9 488.9 L825.0 485.8 L829.7 488.1 L835.9 490.2 L842.1 489.2 L845.2 485.8 L849.9 485.5 L853.8 483.9 L857.7 486.1 L865.5 487.7 L870.1 489.7 L875.6 491.2 L881.0 488.9 L885.7 485.5 L891.9 488.1 L902.8 488.6 L908.3 490.2 L916.8 484.2 L922.3 481.9 L926.2 478.8 L935.5 482.4 L943.3 488.6 L955.7 488.1 L960.4 492.0 L964.3 492.0 L972.8 488.9 L980.0 486.1 L980.0 486.6 L987.8 488.6 L997.1 489.7 L1003.3 486.1 L1008.0 485.0 L1012.7 479.9 L1018.9 479.9 L1023.6 486.6 L1026.7 484.6 L1031.3 487.0 L1037.6 485.0 L1042.2 487.4 L1048.5 490.2 L1053.9 485.8 L1056.2 488.1 L1060.1 483.9 L1063.2 485.5 L1067.1 482.4 L1073.4 485.8 L1078.0 485.5 L1085.8 490.2 L1095.2 488.6 L1101.4 490.5 L1107.6 486.1 L1112.3 484.2 L1116.9 487.4 L1121.6 489.7 L1123.9 484.2 L1129.4 484.6 L1135.6 487.0 L1140.3 485.5 L1144.9 487.0 L1155.8 491.7 L1163.6 490.2 L1168.3 492.0 L1173.0 494.4 L1179.2 489.7 L1185.4 486.6 L1190.1 488.9 L1196.3 488.1 L1201.0 488.7 L1205.0 487.9 L1205.0 488.7 L1213.1 487.1 L1218.0 487.9 L1222.9 485.1 L1234.2 486.2 L1237.5 485.1 L1242.3 487.9 L1252.1 485.1 L1257.0 486.7 L1263.5 481.9 L1270.0 483.0 L1276.5 482.2 L1286.2 484.6 L1292.7 483.8 L1302.4 487.1 L1308.9 484.6 L1318.7 481.4 L1324.4 488.7 L1330.0 485.1 L1338.2 483.8 L1343.0 480.2 L1349.5 478.1 L1356.0 481.9 L1365.8 483.8 L1377.2 483.8 L1386.9 488.7 L1391.8 484.6 L1396.6 486.2 L1404.0 488.7 L1409.6 484.6 L1416.1 482.2 L1424.2 481.4 L1429.1 482.2" fill="none" stroke="#6b9bb0" stroke-width="2.8" stroke-linejoin="round" stroke-linecap="round" />
<path d="M1003.3 486.1 L1008.0 485.0 L1012.7 479.9 L1018.9 479.9 L1023.6 486.6 L1026.7 484.6 L1031.3 487.0 L1037.6 485.0 L1042.2 487.4 L1048.5 490.2 L1053.9 485.8 L1056.2 488.1 L1060.1 483.9 L1063.2 485.5 L1067.1 482.4 L1073.4 485.8 L1078.0 485.5 L1085.8 490.2 L1095.2 488.6 L1101.4 490.5 L1107.6 486.1 L1112.3 484.2 L1116.9 487.4 L1121.6 489.7 L1123.9 484.2 L1129.4 484.6 L1135.6 487.0 L1140.3 485.5 L1144.9 487.0 L1155.8 491.7 L1163.6 490.2 L1168.3 492.0 L1173.0 494.4 L1179.2 489.7 L1185.4 486.6 L1190.1 488.9 L1196.3 488.1 L1201.0 488.7 L1205.0 487.9 L1205.0 488.7 L1213.1 487.1 L1218.0 487.9 L1222.9 485.1 L1234.2 486.2 L1237.5 485.1 L1242.3 487.9 L1252.1 485.1 L1257.0 486.7 L1263.5 481.9 L1270.0 483.0 L1276.5 482.2 L1286.2 484.6 L1292.7 483.8 L1302.4 487.1 L1308.9 484.6 L1318.7 481.4 L1324.4 488.7 L1330.0 485.1 L1338.2 483.8 L1343.0 480.2 L1349.5 478.1 L1356.0 481.9 L1365.8 483.8 L1377.2 483.8 L1386.9 488.7 L1391.8 484.6 L1396.6 486.2 L1404.0 488.7 L1409.6 484.6 L1416.1 482.2 L1424.2 481.4 L1429.1 482.2" fill="none" stroke="#6b9bb0" stroke-width="3.6" stroke-linecap="round" stroke-linejoin="round" stroke-dasharray="0.1 1.5"/>
<path d="M90.6 507.1 L141.5 507.1 L141.9 501.1 L149.2 476.2 L154.7 465.4 L157.8 454.5 L160.1 440.8 L164.8 440.1 L168.7 438.6 L173.4 444.4 L178.0 462.2 L181.1 463.0 L185.8 452.1 L190.5 446.7 L193.9 444.4 L199.0 454.5 L202.2 454.8 L205.3 452.6 L213.8 464.6 L216.9 463.5 L225.5 464.6 L230.2 471.6 L233.7 473.9 L237.5 466.6 L241.8 468.5 L245.7 466.6 L254.3 465.4 L258.9 467.7 L265.9 469.2 L270.1 472.8 L273.7 468.5 L282.3 467.7 L286.2 465.4 L290.1 466.6 L294.7 463.8 L299.4 463.0 L303.3 460.7 L305.0 461.5 L310.9 459.9 L315.9 465.4 L319.0 466.1 L326.8 459.9 L333.0 465.0 L338.4 465.0 L346.2 470.8 L350.9 467.7 L355.6 466.9 L367.2 473.9 L371.1 471.6 L379.7 475.5 L384.4 473.1 L388.2 472.4 L391.8 470.0 L395.2 471.6 L404.6 471.6 L409.2 476.2 L412.4 472.4 L420.1 466.1 L423.3 466.9 L431.0 463.8 L437.3 465.0 L441.1 464.6 L444.7 462.2 L450.5 466.1 L456.7 466.6 L460.6 469.2 L468.4 466.9 L473.8 470.8 L476.9 467.7 L480.8 470.3 L484.7 468.5 L488.6 465.0 L494.1 466.1 L500.8 470.8 L509.6 466.1 L514.3 469.2 L522.8 475.5 L530.0 477.5 L530.0 476.2 L534.7 477.0 L540.9 480.6 L545.6 477.8 L553.3 474.7 L561.9 479.1 L565.8 477.0 L570.5 477.8 L577.5 473.4 L582.9 476.6 L589.1 477.0 L594.6 475.5 L598.5 482.5 L606.2 487.1 L610.9 484.8 L616.4 486.4 L621.8 489.9 L626.5 488.7 L631.1 485.3 L635.0 484.0 L640.5 486.4 L643.6 486.4 L647.5 489.9 L654.5 485.6 L659.1 484.0 L663.8 483.7 L666.9 479.4 L679.4 478.6 L687.2 486.4 L691.8 490.6 L695.7 489.0 L700.4 490.2 L707.4 485.3 L712.8 487.1 L724.5 487.1 L729.2 491.5 L732.3 491.0 L737.0 493.1 L744.0 491.0 L751.0 491.8 L755.0 490.2 L755.0 491.8 L765.9 491.5 L776.8 491.8 L780.7 487.1 L788.5 484.0 L793.1 482.2 L797.0 484.8 L801.7 485.3 L805.6 488.7 L809.5 487.1 L817.2 489.5 L821.9 491.8 L825.0 488.7 L829.7 491.0 L835.9 493.1 L842.1 492.1 L845.2 488.7 L849.9 488.4 L853.8 486.8 L857.7 489.0 L865.5 490.6 L870.1 492.6 L875.6 494.1 L881.0 491.8 L885.7 488.4 L891.9 491.0 L902.8 491.5 L908.3 493.1 L916.8 487.1 L922.3 484.8 L926.2 481.7 L935.5 485.3 L943.3 491.5 L955.7 491.0 L960.4 494.9 L964.3 494.9 L972.8 491.8 L980.0 489.0 L980.0 489.5 L987.8 491.5 L997.1 492.6 L1003.3 489.0 L1008.0 487.9 L1012.7 482.8 L1018.9 482.8 L1023.6 489.5 L1026.7 487.4 L1031.3 489.9 L1037.6 487.9 L1042.2 490.2 L1048.5 493.1 L1053.9 488.7 L1056.2 491.0 L1060.1 486.8 L1063.2 488.4 L1067.1 485.3 L1073.4 488.7 L1078.0 488.4 L1085.8 493.1 L1095.2 491.5 L1101.4 493.4 L1107.6 489.0 L1112.3 487.1 L1116.9 490.2 L1121.6 492.6 L1123.9 487.1 L1129.4 487.4 L1135.6 489.9 L1140.3 488.4 L1144.9 489.9 L1155.8 494.6 L1163.6 493.1 L1168.3 494.9 L1173.0 497.2 L1179.2 492.6 L1185.4 489.5 L1190.1 491.8 L1196.3 491.0 L1201.0 492.6 L1205.0 491.8 L1205.0 492.6 L1213.1 490.9 L1218.0 491.8 L1222.9 489.0 L1234.2 490.1 L1237.5 489.0 L1242.3 491.8 L1252.1 489.0 L1257.0 490.6 L1263.5 485.8 L1270.0 486.9 L1276.5 486.1 L1286.2 488.5 L1292.7 487.7 L1302.4 490.9 L1308.9 488.5 L1318.7 485.3 L1324.4 492.6 L1330.0 489.0 L1338.2 487.7 L1343.0 484.1 L1349.5 482.0 L1356.0 485.8 L1365.8 487.7 L1377.2 487.7 L1386.9 492.6 L1391.8 488.5 L1396.6 490.1 L1404.0 492.6 L1409.6 488.5 L1416.1 486.1 L1424.2 485.3 L1429.1 486.1" fill="none" stroke="#e8643a" stroke-width="2.6" stroke-linejoin="round" stroke-linecap="round" />
<path d="M1003.3 489.0 L1008.0 487.9 L1012.7 482.8 L1018.9 482.8 L1023.6 489.5 L1026.7 487.4 L1031.3 489.9 L1037.6 487.9 L1042.2 490.2 L1048.5 493.1 L1053.9 488.7 L1056.2 491.0 L1060.1 486.8 L1063.2 488.4 L1067.1 485.3 L1073.4 488.7 L1078.0 488.4 L1085.8 493.1 L1095.2 491.5 L1101.4 493.4 L1107.6 489.0 L1112.3 487.1 L1116.9 490.2 L1121.6 492.6 L1123.9 487.1 L1129.4 487.4 L1135.6 489.9 L1140.3 488.4 L1144.9 489.9 L1155.8 494.6 L1163.6 493.1 L1168.3 494.9 L1173.0 497.2 L1179.2 492.6 L1185.4 489.5 L1190.1 491.8 L1196.3 491.0 L1201.0 492.6 L1205.0 491.8 L1205.0 492.6 L1213.1 490.9 L1218.0 491.8 L1222.9 489.0 L1234.2 490.1 L1237.5 489.0 L1242.3 491.8 L1252.1 489.0 L1257.0 490.6 L1263.5 485.8 L1270.0 486.9 L1276.5 486.1 L1286.2 488.5 L1292.7 487.7 L1302.4 490.9 L1308.9 488.5 L1318.7 485.3 L1324.4 492.6 L1330.0 489.0 L1338.2 487.7 L1343.0 484.1 L1349.5 482.0 L1356.0 485.8 L1365.8 487.7 L1377.2 487.7 L1386.9 492.6 L1391.8 488.5 L1396.6 490.1 L1404.0 492.6 L1409.6 488.5 L1416.1 486.1 L1424.2 485.3 L1429.1 486.1" fill="none" stroke="#e8643a" stroke-width="3.6" stroke-linecap="round" stroke-linejoin="round" stroke-dasharray="0.1 1.5"/>
<path d="M90.6 507.1 L141.5 507.1 L141.9 501.1 L149.2 476.2 L150.0 474.7 L154.7 468.5 L157.8 462.2 L160.9 452.1 L164.8 452.1 L168.7 449.8 L173.4 456.0 L177.2 470.8 L181.1 470.8 L185.8 460.7 L189.7 457.6 L193.6 459.1 L197.5 464.6 L204.5 465.0 L209.2 469.2 L215.4 472.8 L220.0 475.5 L224.7 477.0 L228.6 481.2 L234.1 481.2 L237.9 479.4 L241.8 480.9 L245.7 480.1 L251.2 481.2 L258.9 481.7 L263.6 480.9 L266.7 482.2 L270.1 483.7 L273.7 480.6 L279.2 480.1 L286.9 480.9 L294.7 479.4 L305.0 480.1 L308.1 479.7 L310.9 477.0 L315.1 481.7 L325.2 482.5 L331.4 480.9 L337.7 481.7 L343.9 484.8 L356.4 485.3 L362.6 484.8 L367.2 486.4 L371.1 485.3 L379.7 489.5 L385.9 488.4 L391.8 484.0 L396.8 488.4 L404.6 489.5 L409.2 491.5 L412.4 487.1 L420.1 484.8 L428.7 483.2 L433.4 484.3 L437.3 487.4 L445.0 485.9 L452.0 487.1 L456.7 485.3 L466.8 485.9 L473.1 487.1 L476.9 485.9 L480.8 488.4 L491.7 487.1 L501.1 489.5 L505.7 488.7 L513.5 487.4 L518.2 489.5 L522.1 491.8 L530.0 492.1 L530.0 493.1 L544.0 493.1 L553.3 489.5 L561.1 491.8 L567.3 491.8 L574.4 489.9 L582.9 491.5 L593.8 489.9 L598.5 493.4 L606.2 495.2 L614.0 496.8 L621.8 499.9 L629.6 497.7 L633.5 496.8 L638.9 498.3 L645.1 497.2 L654.5 498.0 L663.0 496.5 L671.6 493.1 L679.4 493.1 L687.2 497.2 L693.4 498.3 L701.2 497.2 L707.4 494.9 L716.7 496.5 L724.5 497.2 L730.7 499.6 L736.2 501.9 L743.2 499.6 L747.8 500.4 L752.5 497.7 L755.0 497.7 L755.0 498.0 L764.3 498.3 L776.8 500.8 L786.1 497.7 L793.1 496.2 L800.1 497.2 L812.6 497.7 L821.9 499.3 L825.8 498.3 L832.0 500.4 L839.0 498.3 L849.1 500.4 L856.1 498.8 L870.1 498.3 L877.9 500.4 L884.1 499.3 L895.0 500.4 L909.0 500.4 L916.8 498.3 L926.2 497.2 L938.6 498.3 L954.2 497.7 L962.0 500.4 L972.8 499.3 L980.0 499.3 L980.0 499.3 L995.6 499.6 L1003.3 498.0 L1011.1 498.0 L1015.8 496.5 L1022.0 498.0 L1026.7 496.8 L1042.2 497.7 L1057.8 498.3 L1068.7 496.5 L1076.5 497.2 L1088.9 498.3 L1101.4 497.2 L1112.3 498.8 L1124.7 497.2 L1135.6 498.0 L1143.4 497.2 L1154.3 500.4 L1173.0 501.1 L1182.3 500.4 L1205.0 500.8 L1209.9 502.6 L1221.2 501.5 L1235.9 500.7 L1247.2 502.0 L1261.8 502.6 L1273.2 501.0 L1299.2 501.0 L1318.7 502.0 L1334.9 502.6 L1346.3 501.5 L1356.0 502.3 L1365.0 504.8 L1372.3 502.6 L1383.7 503.6 L1393.4 502.6 L1403.1 504.3 L1412.9 503.1 L1422.6 501.5 L1429.1 501.5" fill="none" stroke="#6cc644" stroke-width="2.6" stroke-linejoin="round" stroke-linecap="round" />
<path d="M1003.3 498.0 L1011.1 498.0 L1015.8 496.5 L1022.0 498.0 L1026.7 496.8 L1042.2 497.7 L1057.8 498.3 L1068.7 496.5 L1076.5 497.2 L1088.9 498.3 L1101.4 497.2 L1112.3 498.8 L1124.7 497.2 L1135.6 498.0 L1143.4 497.2 L1154.3 500.4 L1173.0 501.1 L1182.3 500.4 L1205.0 500.8 L1209.9 502.6 L1221.2 501.5 L1235.9 500.7 L1247.2 502.0 L1261.8 502.6 L1273.2 501.0 L1299.2 501.0 L1318.7 502.0 L1334.9 502.6 L1346.3 501.5 L1356.0 502.3 L1365.0 504.8 L1372.3 502.6 L1383.7 503.6 L1393.4 502.6 L1403.1 504.3 L1412.9 503.1 L1422.6 501.5 L1429.1 501.5" fill="none" stroke="#6cc644" stroke-width="3.4" stroke-linecap="round" stroke-linejoin="round" stroke-dasharray="0.1 1.5"/>
<line x1="141.5" y1="498" x2="141.5" y2="508.5" stroke="#9aa6b8" stroke-width="1"/>
<ellipse cx="141" cy="486.6" rx="22" ry="12.8" fill="#fff" stroke="#a9b7cf" stroke-width="1"/>
<text x="141" y="490.6" text-anchor="middle" class="rel">発売日</text>
<rect x="79" y="616.7" width="1362" height="30.0" fill="#f5f6f8"/>
<rect x="79" y="677.1" width="1362" height="28.9" fill="#f5f6f8"/>
<line x1="89.5" y1="584.5" x2="1430.5" y2="584.5" stroke="#e4e4e4" stroke-width="1"/>
<line x1="89.5" y1="616.2" x2="1430.5" y2="616.2" stroke="#e4e4e4" stroke-width="1"/>
<line x1="89.5" y1="646.2" x2="1430.5" y2="646.2" stroke="#e4e4e4" stroke-width="1"/>
<line x1="89.5" y1="676.6" x2="1430.5" y2="676.6" stroke="#e4e4e4" stroke-width="1"/>
<line x1="179.5" y1="584.5" x2="179.5" y2="706.5" stroke="#e4e4e4" stroke-width="1"/>
<line x1="285.5" y1="584.5" x2="285.5" y2="706.5" stroke="#e4e4e4" stroke-width="1"/>
<line x1="390.5" y1="584.5" x2="390.5" y2="706.5" stroke="#e4e4e4" stroke-width="1"/>
<line x1="496.5" y1="584.5" x2="496.5" y2="706.5" stroke="#e4e4e4" stroke-width="1"/>
<line x1="602.5" y1="584.5" x2="602.5" y2="706.5" stroke="#e4e4e4" stroke-width="1"/>
<line x1="707.5" y1="584.5" x2="707.5" y2="706.5" stroke="#e4e4e4" stroke-width="1"/>
<line x1="813.5" y1="584.5" x2="813.5" y2="706.5" stroke="#e4e4e4" stroke-width="1"/>
<line x1="918.5" y1="584.5" x2="918.5" y2="706.5" stroke="#e4e4e4" stroke-width="1"/>
<line x1="1024.5" y1="584.5" x2="1024.5" y2="706.5" stroke="#e4e4e4" stroke-width="1"/>
<line x1="1130.5" y1="584.5" x2="1130.5" y2="706.5" stroke="#e4e4e4" stroke-width="1"/>
<line x1="1235.5" y1="584.5" x2="1235.5" y2="706.5" stroke="#e4e4e4" stroke-width="1"/>
<line x1="1341.5" y1="584.5" x2="1341.5" y2="706.5" stroke="#e4e4e4" stroke-width="1"/>
<path d="M91.0 691.0 L1429.2 691.0" fill="none" stroke="#a6c6d8" stroke-width="2.2" stroke-linejoin="round" stroke-linecap="round" />
<path d="M77.5 584.5 V706.5 H1442.5 V584.5" fill="none" stroke="#1a1a1a" stroke-width="1" stroke-linecap="square"/>
<path d="M77.5 584.5h11.5M1442.5 584.5h-11.5" stroke="#1a1a1a" stroke-width="1"/>
<path d="M77.5 616.2h11.5M1442.5 616.2h-11.5" stroke="#1a1a1a" stroke-width="1"/>
<path d="M77.5 646.2h11.5M1442.5 646.2h-11.5" stroke="#1a1a1a" stroke-width="1"/>
<path d="M77.5 676.6h11.5M1442.5 676.6h-11.5" stroke="#1a1a1a" stroke-width="1"/>
<path d="M179.5 706.5v-11.5" stroke="#1a1a1a" stroke-width="1"/>
<path d="M285.5 706.5v-11.5" stroke="#1a1a1a" stroke-width="1"/>
<path d="M390.5 706.5v-11.5" stroke="#1a1a1a" stroke-width="1"/>
<path d="M496.5 706.5v-11.5" stroke="#1a1a1a" stroke-width="1"/>
<path d="M602.5 706.5v-11.5" stroke="#1a1a1a" stroke-width="1"/>
<path d="M707.5 706.5v-11.5" stroke="#1a1a1a" stroke-width="1"/>
<path d="M813.5 706.5v-11.5" stroke="#1a1a1a" stroke-width="1"/>
<path d="M918.5 706.5v-11.5" stroke="#1a1a1a" stroke-width="1"/>
<path d="M1024.5 706.5v-11.5" stroke="#1a1a1a" stroke-width="1"/>
<path d="M1130.5 706.5v-11.5" stroke="#1a1a1a" stroke-width="1"/>
<path d="M1235.5 706.5v-11.5" stroke="#1a1a1a" stroke-width="1"/>
<path d="M1341.5 706.5v-11.5" stroke="#1a1a1a" stroke-width="1"/>
<text x="73.5" y="588.6" text-anchor="end">40000</text>
<text x="1446.6" y="588.6">40000</text>
<text x="73.5" y="618.7" text-anchor="end">30000</text>
<text x="1446.6" y="618.7">30000</text>
<text x="73.5" y="648.7" text-anchor="end">20000</text>
<text x="1446.6" y="648.7">20000</text>
<text x="73.5" y="679.1" text-anchor="end">10000</text>
<text x="1446.6" y="679.1">10000</text>
<text x="73.5" y="709.0" text-anchor="end">0</text>
<text x="1446.6" y="709.0">0</text>
<text x="180.3" y="726.8" text-anchor="middle" class="xl">12/12/01</text>
<text x="285.9" y="726.8" text-anchor="middle" class="xl">13/06/01</text>
<text x="391.6" y="726.8" text-anchor="middle" class="xl">13/12/01</text>
<text x="497.1" y="726.8" text-anchor="middle" class="xl">14/06/01</text>
<text x="602.8" y="726.8" text-anchor="middle" class="xl">14/12/01</text>
<text x="708.4" y="726.8" text-anchor="middle" class="xl">15/06/01</text>
<text x="813.9" y="726.8" text-anchor="middle" class="xl">15/12/01</text>
<text x="919.5" y="726.8" text-anchor="middle" class="xl">16/06/01</text>
<text x="1025.2" y="726.8" text-anchor="middle" class="xl">16/12/01</text>
<text x="1130.8" y="726.8" text-anchor="middle" class="xl">17/06/01</text>
<text x="1236.4" y="726.8" text-anchor="middle" class="xl">17/12/01</text>
<text x="1342.0" y="726.8" text-anchor="middle" class="xl">18/06/01</text>
<path d="M91.1 705.8 L119.7 705.6 L159.4 705.8 L179.3 705.3 L212.4 705.3 L254.7 704.5 L285.2 704.2 L318.2 704.2 L355.3 703.2 L371.2 704.2 L389.7 703.5 L395.0 702.1 L408.3 703.5 L421.5 702.4 L432.1 701.1 L437.4 703.2 L450.6 701.1 L461.2 702.6 L471.8 702.6 L480.0 701.6 L481.3 703.2 L488.8 699.2 L494.2 702.6 L499.1 703.6 L507.1 702.0 L512.0 703.2 L517.0 702.0 L522.0 700.6 L525.9 703.2 L530.9 701.2 L538.8 702.0 L548.8 702.6 L554.7 699.2 L560.7 702.0 L565.6 698.0 L570.6 703.6 L578.5 701.6 L584.5 700.6 L590.1 697.2 L595.4 700.6 L602.4 703.2 L608.3 700.6 L614.3 702.0 L621.2 700.6 L627.2 697.2 L636.1 699.2 L642.1 698.0 L647.0 701.2 L653.0 698.6 L659.5 695.3 L663.9 699.2 L667.9 696.1 L671.9 696.7 L675.8 702.6 L680.0 698.0 L684.0 700.6 L687.9 701.2 L690.9 695.3 L695.9 701.2 L699.9 702.0 L704.2 693.7 L707.8 702.0 L712.8 698.0 L716.1 694.1 L719.7 697.2 L724.1 697.6 L728.6 703.2 L732.6 697.6 L736.0 696.1 L743.5 700.6 L748.5 697.6 L752.5 694.7 L756.4 699.6 L760.4 697.6 L764.8 691.7 L768.4 697.6 L772.3 702.0 L780.3 693.7 L784.2 692.7 L788.8 700.6 L796.1 703.2 L801.1 699.6 L809.0 702.0 L813.0 699.2 L817.0 690.7 L821.4 701.2 L825.9 693.7 L829.9 690.7 L833.9 697.6 L837.8 698.6 L841.8 692.7 L845.8 696.1 L850.8 696.7 L856.7 698.0 L861.7 698.6 L869.6 703.6 L874.2 695.3 L878.5 698.6 L882.5 699.6 L886.1 690.7 L890.5 697.2 L898.0 682.8 L902.4 700.6 L906.7 702.0 L910.3 690.7 L915.3 695.3 L918.6 685.7 L922.6 700.6 L926.6 690.7 L930.6 699.6 L934.5 689.7 L938.5 702.0 L943.1 692.7 L947.0 690.7 L951.0 692.7 L955.0 701.2 L959.0 696.1 L962.9 699.6 L966.9 701.2 L970.9 688.1 L974.8 699.6 L975.0 699.7 L979.1 693.9 L984.0 694.2 L987.1 685.2 L991.6 702.2 L995.7 697.0 L1006.1 688.7 L1006.5 678.0 L1007.0 699.3 L1007.5 680.5 L1007.6 700.6 L1008.2 679.0 L1008.8 696.5 L1008.9 685.2 L1010.3 702.6 L1011.4 687.1 L1012.5 703.4 L1013.0 666.0 L1013.2 701.3 L1013.7 665.9 L1014.3 704.5 L1014.6 682.9 L1015.9 703.1 L1017.0 692.1 L1017.6 700.3 L1018.1 665.8 L1018.4 701.6 L1018.8 665.2 L1019.4 700.7 L1019.4 690.0 L1021.0 701.3 L1022.2 695.1 L1023.4 701.6 L1024.5 703.0 L1024.9 696.3 L1025.0 682.8 L1025.7 682.5 L1026.2 701.7 L1026.3 702.1 L1027.3 680.2 L1029.0 699.5 L1030.8 688.4 L1031.0 700.6 L1031.5 686.6 L1032.2 685.2 L1032.3 702.5 L1032.8 701.8 L1033.8 682.3 L1035.3 703.4 L1037.1 688.0 L1037.6 699.6 L1038.1 675.6 L1038.7 698.3 L1038.8 674.2 L1039.4 697.5 L1039.7 688.3 L1041.1 703.6 L1042.0 703.4 L1042.2 690.3 L1042.6 689.2 L1043.3 686.6 L1043.8 701.8 L1043.9 701.0 L1045.3 696.4 L1045.6 701.0 L1046.1 687.4 L1046.4 699.3 L1046.8 685.9 L1047.4 701.0 L1047.6 679.5 L1048.9 701.0 L1050.7 701.1 L1050.8 693.7 L1051.3 685.4 L1052.0 685.2 L1052.4 701.2 L1052.5 702.6 L1053.9 697.8 L1054.1 695.2 L1054.4 653.6 L1055.1 651.7 L1055.5 695.5 L1055.7 695.1 L1056.7 686.3 L1057.7 694.4 L1058.9 685.4 L1059.0 699.3 L1059.5 658.1 L1059.9 695.5 L1060.2 656.2 L1060.8 697.1 L1061.2 674.6 L1063.1 696.0 L1064.1 697.9 L1064.5 675.8 L1064.6 667.8 L1065.3 667.3 L1065.8 698.5 L1065.9 695.0 L1067.3 684.1 L1068.0 697.0 L1068.3 695.2 L1068.5 663.2 L1069.2 661.1 L1069.8 695.3 L1070.2 675.4 L1070.3 696.1 L1070.9 663.2 L1071.6 662.2 L1071.6 696.2 L1072.1 694.2 L1073.5 693.9 L1075.3 695.3 L1076.5 689.2 L1076.5 693.3 L1077.1 682.6 L1077.5 695.7 L1077.8 681.8 L1078.3 691.6 L1078.6 697.7 L1079.1 676.0 L1079.4 688.3 L1079.8 674.9 L1080.4 695.8 L1081.2 694.0 L1082.4 684.9 L1084.2 699.1 L1085.2 699.2 L1085.7 691.1 L1085.8 667.9 L1086.5 665.2 L1086.7 699.7 L1087.0 700.1 L1088.2 684.5 L1089.5 701.3 L1091.3 687.5 L1091.8 701.3 L1092.4 663.2 L1093.1 662.7 L1093.2 697.4 L1093.6 698.9 L1095.0 681.0 L1096.9 700.7 L1097.4 701.0 L1097.9 676.5 L1098.2 685.5 L1098.6 674.9 L1099.2 702.7 L1100.1 698.1 L1101.9 687.0 L1102.7 693.7 L1103.1 692.9 L1103.3 639.1 L1104.0 637.9 L1104.5 691.4 L1104.7 694.7 L1106.1 691.3 L1107.9 687.9 L1108.3 696.0 L1108.8 642.6 L1109.3 695.0 L1109.5 641.1 L1110.1 693.1 L1110.5 682.1 L1111.7 698.6 L1112.4 702.1 L1113.0 657.2 L1113.3 689.8 L1113.7 656.2 L1114.2 701.7 L1114.4 702.0 L1115.6 685.9 L1117.1 701.5 L1117.6 703.2 L1118.2 678.7 L1118.8 689.1 L1118.9 677.4 L1119.4 703.3 L1120.4 700.2 L1121.9 688.7 L1122.5 702.0 L1123.0 672.5 L1123.5 700.1 L1123.7 669.6 L1124.3 700.3 L1124.8 698.1 L1125.4 688.5 L1125.4 659.3 L1126.1 658.6 L1126.6 695.5 L1126.7 699.9 L1128.0 697.5 L1128.5 683.4 L1128.5 677.5 L1129.2 674.9 L1129.8 699.3 L1130.0 696.0 L1131.9 687.6 L1132.6 700.6 L1133.1 670.1 L1133.8 698.7 L1133.8 669.6 L1134.4 699.7 L1135.1 684.7 L1136.8 696.6 L1137.7 701.2 L1138.2 676.2 L1138.3 680.9 L1138.9 676.0 L1139.5 703.1 L1139.8 702.7 L1140.7 700.7 L1141.2 685.3 L1141.7 692.9 L1141.9 684.5 L1142.5 697.9 L1142.8 701.4 L1144.6 693.5 L1145.8 704.8 L1147.3 687.2 L1147.7 702.3 L1148.3 676.5 L1148.9 702.7 L1149.0 676.3 L1149.5 704.0 L1150.6 683.2 L1151.0 701.5 L1151.6 657.9 L1151.7 703.8 L1152.3 656.2 L1152.8 703.1 L1153.1 676.5 L1154.3 698.5 L1155.4 675.6 L1156.7 702.7 L1157.4 700.8 L1157.9 668.7 L1158.0 681.5 L1158.6 668.7 L1159.0 701.4 L1159.2 701.5 L1160.2 688.6 L1161.3 703.1 L1161.8 701.8 L1162.4 673.5 L1162.6 688.9 L1163.1 671.4 L1163.6 703.7 L1164.0 700.0 L1165.3 701.1 L1165.8 691.9 L1165.8 686.1 L1166.5 685.9 L1167.1 698.8 L1167.1 698.1 L1168.8 680.7 L1169.8 700.5 L1170.3 679.7 L1170.5 703.0 L1171.0 679.0 L1171.6 699.0 L1172.1 680.0 L1173.4 703.4 L1175.3 689.7 L1176.7 699.6 L1177.1 699.6 L1177.2 658.8 L1177.9 657.6 L1178.4 680.0 L1178.5 699.0 L1179.4 699.7 L1179.9 701.1 L1180.4 675.9 L1180.5 683.4 L1181.1 674.2 L1181.7 700.7 L1181.8 703.2 L1183.4 692.0 L1184.3 701.4 L1184.7 700.9 L1184.8 670.8 L1185.5 668.7 L1186.1 701.7 L1186.6 682.6 L1188.4 702.4 L1190.1 684.1 L1191.5 701.5 L1193.3 693.6 L1195.1 701.2 L1196.4 700.0 L1196.7 679.9 L1197.0 664.7 L1197.7 662.2 L1198.0 701.9 L1198.2 699.8 L1199.6 691.5 L1200.6 703.1 L1200.6 704.0 L1201.1 661.3 L1201.8 659.7 L1202.3 682.9 L1202.4 703.4 L1203.5 700.3 L1204.3 704.4 L1204.7 680.8 L1204.8 663.9 L1205.5 662.7 L1206.1 703.8 L1206.6 704.8 L1207.1 704.5 L1207.6 665.1 L1208.3 684.1 L1208.3 663.1 L1208.9 701.9 L1210.0 703.9 L1211.5 675.5 L1213.1 704.8 L1214.0 704.5 L1214.5 660.0 L1214.7 686.1 L1215.2 659.7 L1215.8 704.5 L1216.0 704.5 L1216.1 702.7 L1216.6 670.8 L1217.3 670.7 L1217.8 703.8 L1218.0 693.5 L1219.4 702.5 L1220.6 685.4 L1221.7 701.4 L1223.6 683.9 L1225.0 703.5 L1226.0 700.4 L1226.5 656.7 L1226.7 685.2 L1227.2 656.7 L1227.8 699.8 L1228.1 701.5 L1229.4 684.0 L1230.5 704.5 L1230.7 704.7 L1231.1 684.3 L1231.7 695.0 L1231.8 681.8 L1232.3 702.1 L1233.3 703.8 L1233.5 701.9 L1233.8 687.5 L1234.5 684.5 L1234.8 687.0 L1235.1 703.7 L1236.0 700.6 L1237.1 693.7 L1237.8 701.8 L1238.4 685.3 L1239.0 699.9 L1239.1 684.5 L1239.6 701.3 L1240.3 695.4 L1242.1 701.3 L1243.9 695.2 L1244.7 701.9 L1245.3 685.1 L1245.5 698.4 L1246.0 682.9 L1246.5 702.1 L1247.2 672.7 L1248.3 701.3 L1249.6 686.2 L1249.8 700.8 L1250.4 663.0 L1251.1 661.1 L1251.5 701.3 L1251.6 699.3 L1252.8 678.3 L1253.6 701.1 L1254.1 654.8 L1254.7 703.5 L1254.8 654.2 L1255.4 702.6 L1256.1 679.0 L1256.7 699.7 L1257.3 649.3 L1257.4 697.3 L1258.0 647.5 L1258.5 701.1 L1258.6 692.5 L1260.0 699.8 L1261.3 680.0 L1261.6 698.6 L1262.1 656.8 L1262.8 655.3 L1263.2 701.6 L1263.4 698.7 L1264.4 685.8 L1265.7 698.5 L1266.7 697.4 L1267.2 687.4 L1267.6 693.9 L1267.9 685.2 L1268.5 698.9 L1268.6 698.1 L1270.1 682.0 L1272.0 699.7 L1273.7 695.6 L1274.8 697.4 L1276.3 691.5 L1277.9 702.9 L1279.6 688.4 L1280.7 704.8 L1281.9 694.9 L1283.2 696.6 L1284.4 690.9 L1285.5 696.2 L1286.4 700.1 L1287.0 690.2 L1287.0 646.2 L1287.7 646.2 L1288.2 698.7 L1288.2 698.6 L1289.9 698.7 L1290.0 691.0 L1290.4 659.1 L1291.1 658.3 L1291.4 700.3 L1291.7 700.5 L1292.7 682.3 L1294.3 698.5 L1295.6 691.3 L1296.8 696.1 L1297.5 701.2 L1298.0 648.8 L1298.1 687.9 L1298.7 646.6 L1299.2 697.3 L1299.3 700.7 L1299.5 699.3 L1300.1 659.4 L1300.8 656.9 L1301.1 685.1 L1301.3 697.5 L1302.4 702.3 L1303.0 700.9 L1303.5 660.5 L1303.8 684.6 L1304.2 657.6 L1304.8 698.6 L1305.2 698.8 L1306.0 699.9 L1306.4 691.1 L1306.6 661.0 L1307.3 658.3 L1307.5 701.1 L1307.8 701.3 L1309.3 695.0 L1309.6 702.4 L1310.2 660.5 L1310.5 701.0 L1310.9 658.3 L1311.4 699.6 L1311.9 687.2 L1313.0 697.0 L1314.3 686.9 L1315.4 703.5 L1315.4 700.8 L1316.0 658.0 L1316.6 679.3 L1316.7 655.5 L1317.2 701.9 L1317.9 703.5 L1318.6 701.3 L1319.1 687.1 L1319.1 649.0 L1319.8 646.6 L1320.1 698.0 L1320.4 702.2 L1321.1 682.9 L1321.6 701.1 L1322.2 682.6 L1322.4 702.6 L1322.9 681.8 L1323.4 702.9 L1324.2 690.6 L1325.8 699.8 L1325.8 699.8 L1326.3 646.1 L1327.0 643.8 L1327.1 690.9 L1327.6 701.4 L1328.1 699.3 L1329.5 695.4 L1330.3 701.8 L1330.9 699.4 L1330.9 679.0 L1331.6 676.3 L1332.1 699.7 L1332.2 693.2 L1334.0 702.7 L1335.5 686.6 L1336.8 700.3 L1336.9 702.6 L1337.4 652.3 L1337.9 673.4 L1338.1 650.0 L1338.6 698.5 L1339.2 703.8 L1339.6 703.3 L1340.1 643.9 L1340.8 643.1 L1341.0 668.3 L1341.4 700.7 L1341.6 700.1 L1342.0 701.8 L1342.2 677.5 L1342.9 676.3 L1343.0 682.2 L1343.4 700.2 L1344.1 702.6 L1345.2 668.9 L1346.0 700.8 L1346.4 699.2 L1346.6 677.1 L1347.2 700.1 L1347.3 674.9 L1347.5 671.9 L1347.7 674.8 L1347.8 698.8 L1348.3 699.6 L1348.4 672.1 L1349.0 700.0 L1349.3 689.8 L1350.3 699.3 L1350.9 700.4 L1351.3 703.4 L1351.4 667.3 L1351.4 681.7 L1351.8 669.3 L1352.1 665.9 L1352.5 666.6 L1352.7 701.5 L1352.7 700.0 L1353.1 700.6 L1353.5 670.5 L1353.6 702.7 L1353.8 703.8 L1354.2 662.5 L1354.3 661.0 L1354.8 703.4 L1354.9 659.7 L1355.0 659.7 L1355.4 701.5 L1355.6 702.1 L1356.1 668.5 L1357.1 702.7 L1357.8 701.7 L1357.9 701.0 L1358.0 674.8 L1358.3 662.9 L1358.5 663.2 L1358.7 703.1 L1359.0 662.2 L1359.2 662.2 L1359.6 701.7 L1359.6 670.4 L1359.7 701.3 L1360.4 700.5 L1361.0 701.6 L1361.2 703.7 L1361.5 678.8 L1361.6 679.2 L1361.8 679.3 L1362.2 677.6 L1362.4 703.7 L1362.5 679.0 L1362.8 701.3 L1363.0 701.5 L1363.3 672.8 L1364.2 704.8 L1364.4 702.6 L1365.0 684.4 L1365.1 679.6 L1365.4 703.7 L1365.7 681.8 L1365.9 685.1 L1366.0 701.2 L1366.2 704.5 L1366.6 684.5 L1366.8 687.6 L1367.2 700.7 L1367.8 704.0 L1368.7 687.2 L1369.7 699.5 L1370.4 679.2 L1370.9 703.0 L1371.4 675.3 L1371.5 704.4 L1372.1 674.2 L1372.2 669.5 L1372.7 702.5 L1373.1 701.9 L1373.6 703.7 L1374.2 655.7 L1374.4 668.6 L1374.9 652.8 L1375.4 699.3 L1375.4 701.7 L1375.7 704.4 L1376.3 642.5 L1376.6 688.2 L1377.0 641.1 L1377.5 701.6 L1377.6 704.4 L1378.5 703.8 L1378.6 685.8 L1379.0 658.3 L1379.4 704.2 L1379.7 657.6 L1380.3 702.9 L1380.6 670.4 L1381.5 701.5 L1381.9 702.0 L1382.5 675.2 L1382.5 676.4 L1383.2 674.2 L1383.2 699.3 L1383.7 703.5 L1384.3 684.2 L1384.4 703.3 L1385.0 661.6 L1385.0 704.4 L1385.7 660.0 L1385.8 673.3 L1386.2 703.5 L1386.7 702.4 L1387.4 702.0 L1387.7 681.8 L1388.0 662.2 L1388.6 701.4 L1388.7 662.2 L1389.2 702.1 L1389.5 684.3 L1390.2 701.5 L1390.7 700.7 L1390.7 661.4 L1391.4 661.1 L1391.5 676.3 L1392.0 699.2 L1392.2 700.3 L1393.2 667.0 L1394.3 697.5 L1394.3 701.8 L1394.9 666.7 L1395.4 678.1 L1395.6 665.2 L1396.1 699.1 L1396.4 702.6 L1397.2 686.6 L1397.4 701.9 L1397.9 654.1 L1398.4 703.4 L1398.6 651.7 L1399.2 699.9 L1399.4 689.0 L1400.5 703.7 L1400.7 698.8 L1401.1 677.8 L1401.8 677.6 L1401.9 684.1 L1402.3 702.5 L1402.7 704.2 L1403.3 702.5 L1403.5 685.6 L1403.9 655.5 L1404.3 700.2 L1404.6 652.8 L1405.1 701.2 L1405.1 700.5 L1405.3 673.7 L1405.7 641.5 L1406.0 702.9 L1406.4 641.1 L1406.9 702.9 L1407.3 670.0 L1408.4 699.2 L1408.8 704.0 L1409.4 661.4 L1409.5 681.3 L1410.1 659.7 L1410.4 704.2 L1410.6 703.9 L1411.1 689.8 L1411.6 701.2 L1412.1 674.4 L1412.2 700.7 L1412.8 671.4 L1413.4 701.1 L1413.4 674.6 L1414.4 702.6 L1414.6 700.7 L1414.9 637.8 L1415.4 672.1 L1415.6 637.6 L1416.2 703.7 L1416.4 702.0 L1416.4 703.9 L1417.0 623.4 L1417.5 666.8 L1417.7 622.4 L1418.2 699.0 L1418.3 701.2 L1419.2 678.3 L1419.5 698.8 L1420.0 644.9 L1420.5 696.4 L1420.7 644.2 L1421.2 674.5 L1421.3 699.1 L1421.9 699.2 L1422.0 698.3 L1422.5 651.9 L1422.8 680.0 L1423.2 650.0 L1423.7 698.6 L1423.8 697.8 L1424.4 700.0 L1425.0 647.1 L1425.1 671.8 L1425.7 645.2 L1425.9 703.0 L1426.2 701.4 L1426.8 702.2 L1426.8 672.3 L1427.3 674.0 L1427.5 702.9 L1428.0 672.1 L1428.6 701.4 L1428.6 688.5 L1429.0 703.0" fill="none" stroke="#789fb2" stroke-width="2.3" stroke-linejoin="round" stroke-linecap="round" />
</svg>
</body></html>
